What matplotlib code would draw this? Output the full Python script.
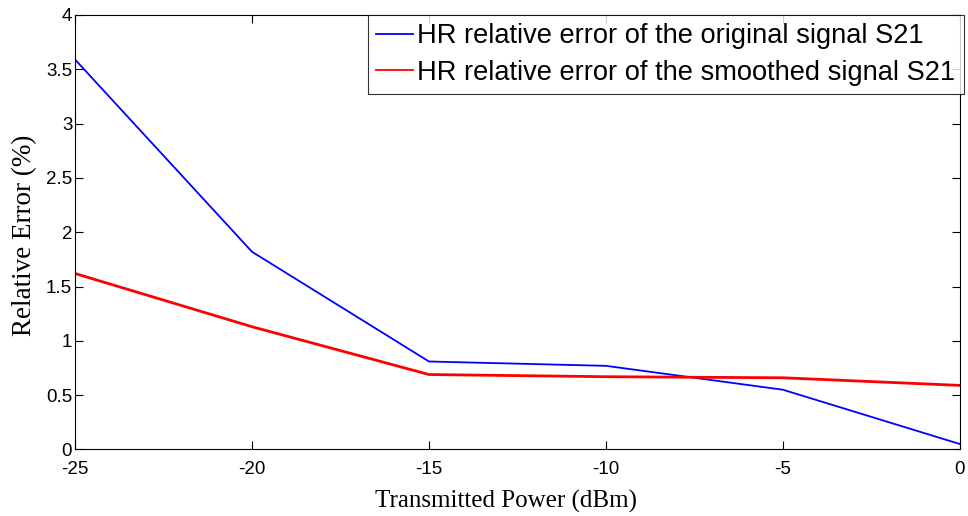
import numpy as np
import matplotlib
matplotlib.use('Agg')
import matplotlib.pyplot as plt
from matplotlib.lines import Line2D

# transmitted power (dBm) and HR relative error (%)
power = [-25, -20, -15, -10, -5, 0]
err_original = [3.59, 1.82, 0.81, 0.77, 0.55, 0.05]
err_smoothed = [1.62, 1.13, 0.69, 0.67, 0.66, 0.59]
labels = ['HR relative error of the original signal S21',
          'HR relative error of the smoothed signal S21']

plt.rcParams['font.family'] = ['Liberation Sans', 'DejaVu Sans']
plt.rcParams['axes.unicode_minus'] = False

fig = plt.figure(figsize=(9.68, 5.16), dpi=100)
ax = fig.add_axes([0.0775, 0.1289, 0.9142, 0.8421])

ax.plot(power, err_original, color='#0000ff', linewidth=1.3)
ax.plot(power, err_smoothed, color='#ff0000', linewidth=2.0)

ax.set_xlim(-25, 0)
ax.set_ylim(0, 4)
ax.set_xticks(np.arange(-25, 1, 5))
ax.set_yticks(np.arange(0, 4.01, 0.5))
ax.set_yticklabels(['0', '0.5', '1', '1.5', '2', '2.5', '3', '3.5', '4'])
ax.tick_params(direction='in', top=True, right=True, length=6, width=0.8,
               labelsize=13.5)
ax.tick_params(axis='x', pad=8)
ax.tick_params(axis='y', pad=2)
for s in ax.spines.values():
    s.set_linewidth(0.8)

ax.set_xlabel('Transmitted Power (dBm)', family='Liberation Serif', fontsize=18)
ax.set_ylabel('Relative Error (%)', family='Liberation Serif', fontsize=19.5)
ax.xaxis.set_label_coords(0.487, -0.092)
ax.yaxis.set_label_coords(-0.0425, 0.492)

handles = [Line2D([], [], color='#0000ff', linewidth=1.3),
           Line2D([], [], color='#ff0000', linewidth=1.3)]
leg = ax.legend(handles, labels, loc='upper right', fontsize=19.6, frameon=True,
                fancybox=False, edgecolor='black', borderaxespad=0,
                bbox_to_anchor=(1.004, 1.0),
                handlelength=1.35, handletextpad=0.15, borderpad=0.3,
                labelspacing=0.4)
leg.get_frame().set_linewidth(0.8)

plt.savefig('out.png', dpi=100)
